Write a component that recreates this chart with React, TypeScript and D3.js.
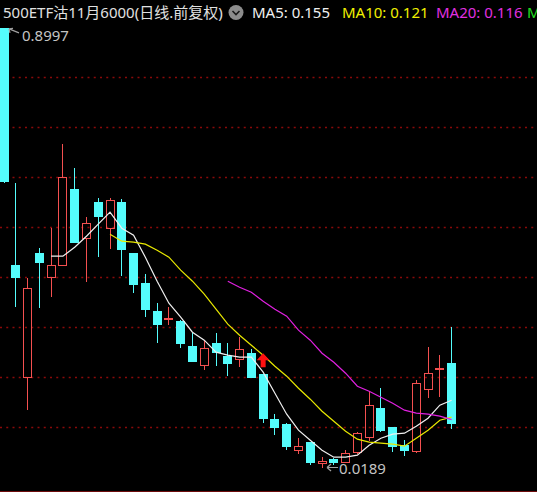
import React from "react";
import * as d3 from "d3";

const W = 537;
const H = 492;

const titleText = "500ETF沽11月6000(日线.前复权)";
const ma5Label = "MA5: 0.155";
const ma10Label = "MA10: 0.121";
const ma20Label = "MA20: 0.116";
const nextLabel = "MA";

const highLabel = "0.8997";
const lowLabel = "0.0189";

// OHLC per trading day (index 0..38)
const opens = [0.8997, 0.425, 0.199, 0.449, 0.399, 0.423, 0.577, 0.477, 0.551, 0.497,
  0.551, 0.449, 0.389, 0.333, 0.317, 0.313, 0.263, 0.223, 0.269, 0.243,
  0.235, 0.249, 0.207, 0.117, 0.107, 0.053, 0.071, 0.027, 0.037, 0.029,
  0.049, 0.079, 0.139, 0.101, 0.065, 0.051, 0.175, 0.217, 0.229];
const highs = [0.8997, 0.589, 0.399, 0.459, 0.499, 0.667, 0.619, 0.521, 0.559, 0.559,
  0.557, 0.449, 0.407, 0.349, 0.341, 0.315, 0.289, 0.275, 0.289, 0.269,
  0.281, 0.257, 0.207, 0.127, 0.109, 0.079, 0.071, 0.041, 0.039, 0.055,
  0.091, 0.173, 0.179, 0.101, 0.075, 0.195, 0.261, 0.245, 0.301];
const lows = [0.590, 0.341, 0.135, 0.339, 0.361, 0.423, 0.469, 0.391, 0.441, 0.457,
  0.403, 0.369, 0.321, 0.269, 0.305, 0.259, 0.231, 0.215, 0.223, 0.203,
  0.221, 0.199, 0.109, 0.085, 0.055, 0.047, 0.025, 0.0189, 0.025, 0.029,
  0.047, 0.073, 0.091, 0.051, 0.043, 0.049, 0.159, 0.161, 0.097];
const closes = [0.591, 0.399, 0.379, 0.429, 0.425, 0.601, 0.469, 0.509, 0.521, 0.555,
  0.455, 0.385, 0.335, 0.305, 0.319, 0.267, 0.231, 0.259, 0.249, 0.227,
  0.257, 0.199, 0.117, 0.099, 0.061, 0.063, 0.029, 0.033, 0.029, 0.049,
  0.089, 0.145, 0.093, 0.061, 0.053, 0.189, 0.209, 0.219, 0.107];

// Moving averages
const ma5Start = 4;
const ma5 = [0.443, 0.443, 0.461, 0.483, 0.507, 0.531, 0.499, 0.485, 0.441, 0.393,
  0.349, 0.321, 0.291, 0.275, 0.251, 0.245, 0.241, 0.241, 0.211, 0.169,
  0.127, 0.095, 0.075, 0.055, 0.041, 0.041, 0.045, 0.065, 0.079, 0.087,
  0.089, 0.103, 0.119, 0.145, 0.155];
const ma10Start = 9;
const ma10 = [0.487, 0.473, 0.471, 0.467, 0.455, 0.441, 0.415, 0.393, 0.367, 0.337,
  0.307, 0.285, 0.265, 0.245, 0.223, 0.203, 0.179, 0.157, 0.133, 0.113,
  0.093, 0.077, 0.071, 0.069, 0.067, 0.063, 0.079, 0.095, 0.115, 0.121];
const ma20Start = 19;
const ma20 = [0.393, 0.381, 0.371, 0.353, 0.337, 0.323, 0.295, 0.275, 0.249, 0.231,
  0.209, 0.183, 0.173, 0.161, 0.149, 0.135, 0.129, 0.127, 0.123, 0.116];

const gridTicks = [0.1, 0.2, 0.3, 0.4, 0.5, 0.6, 0.7, 0.8];
const signalIndex = 22;

const UP = "#f45050";
const DOWN = "#54fcfc";
const C_MA5 = "#f0f0f0";
const C_MA10 = "#e8e800";
const C_MA20 = "#e020e0";
const GRID = "#8a0a0a";
const FONT = "'Noto Sans', 'Noto Sans CJK SC', sans-serif";

export default function App() {
  React.useEffect(() => {
    document.body.style.margin = "0";
    document.body.style.background = "#000";
  }, []);

  const n = closes.length;
  const x = d3.scaleLinear().domain([0, n - 1]).range([4, 451.6]);
  const y = d3.scaleLinear().domain([0, 0.9]).range([477.7, 27.7]);
  const bodyW = 9;

  const mkLine = (start: number) =>
    d3.line<number>().x((_, i) => x(i + start)).y((d) => y(d));

  const candles = closes.map((c, i) => {
    const o = opens[i];
    const up = c >= o;
    const left = Math.round(x(i) - 4.5);
    const wx = left + 4.5;
    const yt = Math.round(y(Math.max(o, c)));
    const yb = Math.round(y(Math.min(o, c)));
    const yh = Math.round(y(highs[i]));
    const yl = Math.round(y(lows[i]));
    if (up) {
      const h = Math.max(1, yb - yt);
      return (
        <g key={i}>
          <line x1={wx} x2={wx} y1={yh} y2={yt} stroke={UP} strokeWidth={1} />
          <line x1={wx} x2={wx} y1={yt + h} y2={yl} stroke={UP} strokeWidth={1} />
          <rect x={left + 0.5} y={yt + 0.5} width={bodyW - 1} height={Math.max(1, h - 1)} fill="none" stroke={UP} strokeWidth={1} />
        </g>
      );
    }
    return (
      <g key={i}>
        <line x1={wx} x2={wx} y1={yh} y2={yl} stroke={DOWN} strokeWidth={1} />
        <rect x={left} y={yt} width={bodyW} height={Math.max(1, yb - yt)} fill={DOWN} />
      </g>
    );
  });

  const sx = x(signalIndex);
  const sb = y(highs[signalIndex]) - 7;
  const arrowPath = `M${sx},${sb - 14} L${sx + 6.5},${sb - 7} L${sx + 2.5},${sb - 7} L${sx + 2.5},${sb} L${sx - 2.5},${sb} L${sx - 2.5},${sb - 7} L${sx - 6.5},${sb - 7} Z`;

  const hx = x(0) + 5;
  const hy = y(highs[0]) + 1;
  const lx = x(27) + 5;
  const ly = Math.round(y(lows[27])) - 0.5;

  return (
    <svg width={W} height={H} style={{ position: "fixed", left: 0, top: 0, background: "#000", display: "block" }}>
      <rect x={0} y={0} width={W} height={H} fill="#000" />
      {gridTicks.map((t) => (
        <line key={t} x1={0} x2={W} y1={Math.floor(y(t)) + 0.5} y2={Math.floor(y(t)) + 0.5}
          stroke={GRID} strokeWidth={1.5} strokeDasharray="2,4.25" />
      ))}
      <line x1={0} x2={W} y1={491.5} y2={491.5} stroke="#6e0c0c" strokeWidth={1} />
      {candles}
      <path d={mkLine(ma5Start)(ma5) || ""} fill="none" stroke={C_MA5} strokeWidth={1.2} />
      <path d={mkLine(ma10Start)(ma10) || ""} fill="none" stroke={C_MA10} strokeWidth={1.2} />
      <path d={mkLine(ma20Start)(ma20) || ""} fill="none" stroke={C_MA20} strokeWidth={1.2} />
      <path d={arrowPath} fill="#ff1010" />
      {/* high label */}
      <path d={`M${hx + 10},${hy + 4} L${hx},${hy} M${hx},${hy} L${hx + 4},${hy - 0.5} M${hx},${hy} L${hx + 1},${hy + 4}`} stroke="#a0a0a0" strokeWidth={1.2} fill="none" />
      <text x={hx + 13} y={hy + 12} fill="#c4c4c4" fontSize={15} fontFamily={FONT}>{highLabel}</text>
      {/* low label */}
      <path d={`M${lx},${ly} L${lx + 11},${ly} M${lx},${ly} L${lx + 4},${ly - 3.5} M${lx},${ly} L${lx + 4},${ly + 3.5}`} stroke="#a0a0a0" strokeWidth={1.2} fill="none" />
      <text x={lx + 12} y={ly + 6} fill="#c4c4c4" fontSize={15} fontFamily={FONT}>{lowLabel}</text>
      {/* header */}
      <text x={3} y={18} fill="#e0e0e0" fontSize={15} fontFamily={FONT}>{titleText}</text>
      <circle cx={236} cy={12.5} r={7.5} fill="#8c8c8c" />
      <path d="M232.5,11 L236,14.5 L239.5,11" stroke="#1a1a1a" strokeWidth={1.6} fill="none" />
      <text x={252} y={18} fill="#f0f0f0" fontSize={15} fontFamily={FONT}>{ma5Label}</text>
      <text x={342} y={18} fill="#f0f000" fontSize={15} fontFamily={FONT}>{ma10Label}</text>
      <text x={436} y={18} fill="#e030e0" fontSize={15} fontFamily={FONT}>{ma20Label}</text>
      <text x={527} y={18} fill="#20e020" fontSize={15} fontFamily={FONT}>{nextLabel}</text>
    </svg>
  );
}
